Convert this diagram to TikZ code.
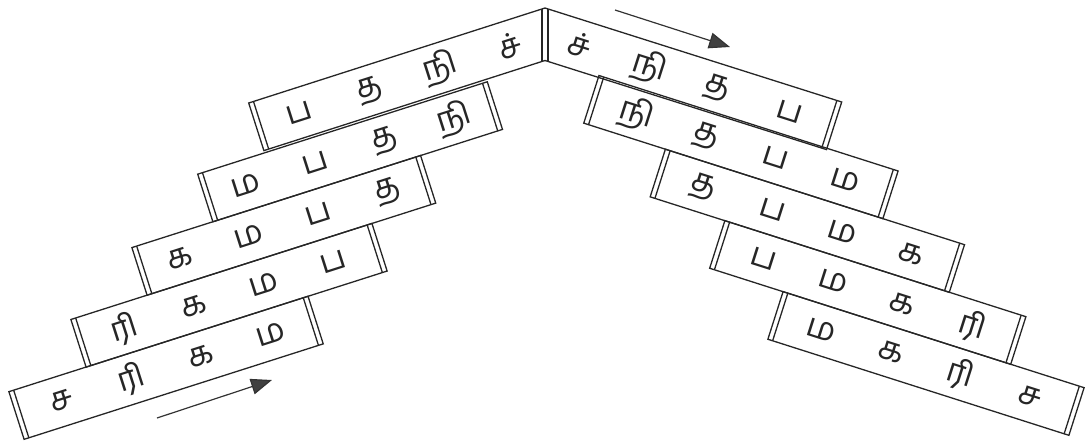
\documentclass[tikz,border=0pt]{standalone}
\usepackage{fontspec}
\newfontfamily\tamilfont[Script=Tamil]{Hind Madurai}
\usetikzlibrary{calc,arrows.meta}
\newcommand\tamrow[6]{%
  \node[lt,rotate=#2] (#1a) at ($(#1.center)!109.5pt!(#1.west)$) {#3};
  \node[lt,rotate=#2] (#1b) at ($(#1.center)!36.5pt!(#1.west)$) {#4};
  \node[lt,rotate=#2] (#1c) at ($(#1.center)!36.5pt!(#1.east)$) {#5};
  \node[lt,rotate=#2] (#1d) at ($(#1.center)!109.5pt!(#1.east)$) {#6};
  \draw[edge] ($(#1.north west)!5pt!(#1.north east)$) -- ($(#1.south west)!5pt!(#1.south east)$);
  \draw[edge] ($(#1.north east)!5pt!(#1.north west)$) -- ($(#1.south east)!5pt!(#1.south west)$);
}
\begin{document}
\begin{tikzpicture}[x=1pt,y=-1pt,
  edge/.style={line width=1.3pt, draw=black!85},
  strip/.style={draw=black!85, line width=1.3pt, minimum height=50pt, inner sep=0pt, outer sep=0pt},
  lstrip/.style={strip, rotate=17.7, anchor=west},
  rstrip/.style={strip, rotate=-17.7, anchor=east},
  lt/.style={font=\tamilfont\fontsize{33}{33}\selectfont, inner sep=0pt, text=black!85},
  arr/.style={line width=1.2pt, draw=black!80, -{Triangle[length=21pt,width=16pt,fill=black!75]}}]
\useasboundingbox (0,0) rectangle (1090,445);
% left side
\node[lstrip, minimum width=314pt] (L1) at (16.5,415.5) {};
\tamrow{L1}{17.7}{ச}{ரி}{க}{ம}
\node[lstrip, minimum width=316pt] (L2) at (78.5,343.3) {};
\tamrow{L2}{17.7}{ரி}{க}{ம}{ப}
\node[lstrip, minimum width=303pt] (L3) at (139.5,271.4) {};
\tamrow{L3}{17.7}{க}{ம}{ப}{த}
\node[lstrip, minimum width=304pt] (L4) at (205.3,198) {};
\tamrow{L4}{17.7}{ம}{ப}{த}{நி}
% right side
\node[rstrip, minimum width=314pt] (R2) at (890.5,194.8) {};
\tamrow{R2}{-17.7}{நி}{த}{ப}{ம}
\node[rstrip, minimum width=314pt] (R3) at (956.9,268.5) {};
\tamrow{R3}{-17.7}{த}{ப}{ம}{க}
\node[rstrip, minimum width=316pt] (R4) at (1018.3,340.5) {};
\tamrow{R4}{-17.7}{ப}{ம}{க}{ரி}
\node[rstrip, minimum width=316pt] (R5) at (1076.5,411.5) {};
\tamrow{R5}{-17.7}{ம}{க}{ரி}{ச}
% apex strips
\coordinate (L5tl) at (248.7,103);
\coordinate (L5bl) at (263.9,150.6);
\coordinate (L5tli) at (253.5,101.5);
\coordinate (L5bli) at (268.7,149.1);
\coordinate (R1tr) at (841.7,102);
\coordinate (R1br) at (826.5,149.6);
\coordinate (R1tri) at (836.9,100.5);
\coordinate (R1bri) at (821.7,148.1);
\coordinate (apt) at (545,8);
\coordinate (apb) at (545,60.5);
\coordinate (apl1) at (542,9);
\coordinate (apl2) at (542,61.5);
\coordinate (apr1) at (548,9);
\coordinate (apr2) at (548,61.5);
\draw[edge, line join=miter] (L5bl) -- (L5tl) -- (apt) -- (R1tr) -- (R1br) -- (apb) -- cycle;
\draw[edge] (L5tli) -- (L5bli);
\draw[edge] (R1tri) -- (R1bri);
\draw[edge] (apl1) -- (apl2);
\draw[edge] (apr1) -- (apr2);
\node[lt,rotate=17.7] (L5a) at (299.2,113.1) {ப};
\node[lt,rotate=17.7] (L5b) at (369.7,90.6) {த};
\node[lt,rotate=17.7] (L5c) at (440.2,68.1) {நி};
\node[lt,rotate=17.7] (L5d) at (509.5,46) {ச்};
\node[lt,rotate=-17.7] (R1a) at (580,44.7) {ச்};
\node[lt,rotate=-17.7] (R1b) at (649.3,66.8) {நி};
\node[lt,rotate=-17.7] (R1c) at (716.9,88.4) {த};
\node[lt,rotate=-17.7] (R1d) at (789.3,111.5) {ப};
% arrows
\coordinate (a1s) at (157,418);
\coordinate (a1e) at (272,380);
\draw[arr] (a1s) -- (a1e);
\coordinate (a2s) at (615,10);
\coordinate (a2e) at (730,47);
\draw[arr] (a2s) -- (a2e);
\end{tikzpicture}
\end{document}
